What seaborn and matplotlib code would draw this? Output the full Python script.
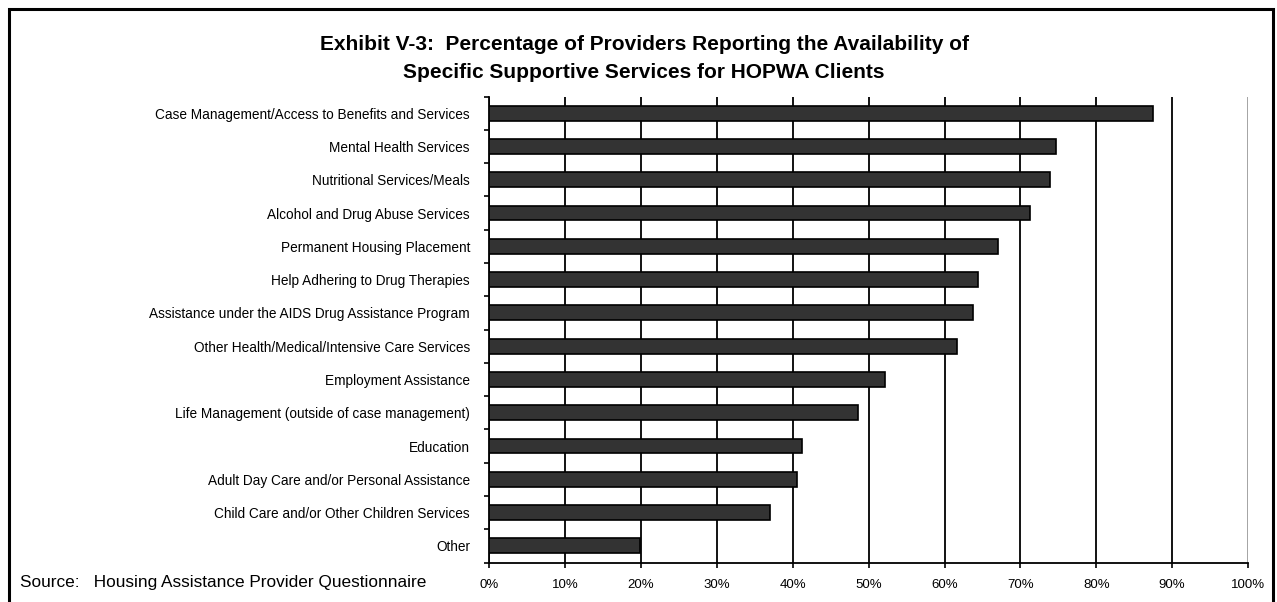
import matplotlib
matplotlib.use("Agg")
import matplotlib.pyplot as plt
from matplotlib import font_manager
from matplotlib.patches import Rectangle
import pandas as pd
import seaborn as sns

# Services and share of providers reporting each one (%)
services = [
    "Case Management/Access to Benefits and Services",
    "Mental Health Services",
    "Nutritional Services/Meals",
    "Alcohol and Drug Abuse Services",
    "Permanent Housing Placement",
    "Help Adhering to Drug Therapies",
    "Assistance under the AIDS Drug Assistance Program",
    "Other Health/Medical/Intensive Care Services",
    "Employment Assistance",
    "Life Management (outside of case management)",
    "Education",
    "Adult Day Care and/or Personal Assistance",
    "Child Care and/or Other Children Services",
    "Other",
]
percent = [87.5, 74.7, 73.9, 71.3, 67.1, 64.4, 63.8, 61.7, 52.2, 48.6, 41.2, 40.5, 37.0, 19.8]
x_ticks = [0, 10, 20, 30, 40, 50, 60, 70, 80, 90, 100]
x_tick_labels = [f"{v}%" for v in x_ticks]

title = ("Exhibit V-3:  Percentage of Providers Reporting the Availability of\n"
         "Specific Supportive Services for HOPWA Clients")
source = "Source:   Housing Assistance Provider Questionnaire"

sns.set_theme(style="white")
plt.rcParams["font.family"] = ["Liberation Sans", "DejaVu Sans"]
plt.rcParams["text.color"] = "black"
plt.rcParams["xtick.color"] = "black"
plt.rcParams["ytick.color"] = "black"

installed = {f.name for f in font_manager.fontManager.ttflist}
narrow = "Liberation Sans Narrow" if "Liberation Sans Narrow" in installed else None

W, H = 1277, 602
fig = plt.figure(figsize=(W / 100, H / 100), dpi=100)
fig.patch.set_facecolor("white")

# frame around the whole exhibit
fig.patches.append(Rectangle((9 / W, -0.02), (1273 - 9) / W, 1.02 - 9 / H,
                             transform=fig.transFigure, fill=False,
                             edgecolor="black", linewidth=2.2))

left, right, top, bottom = 489.3, 1248.0, 96.5, 562.5
ax = fig.add_axes([left / W, 1 - bottom / H, (right - left) / W, (bottom - top) / H])

df = pd.DataFrame({"service": services, "percent": percent})
sns.barplot(data=df, x="percent", y="service", orient="h", color="#333333",
            saturation=1, edgecolor="black", linewidth=1.2, width=0.45, ax=ax,
            zorder=3)

ax.set_xlim(0, 100)
ax.set_ylim(len(services) - 0.5, -0.5)
ax.set_xlabel("")
ax.set_ylabel("")

ax.set_xticks(x_ticks)
ax.set_xticklabels(x_tick_labels, fontsize=9.5, color="black")
ax.tick_params(axis="x", direction="out", length=3.6, width=1.2, color="black",
               pad=8.5, bottom=True, labelcolor="black")

# category labels centred on bars, tick marks between categories
ax.set_yticks(range(len(services)))
ax.set_yticklabels(services, fontsize=9.8, color="black")
ax.set_yticks([i - 0.5 for i in range(len(services) + 1)], minor=True)
ax.tick_params(axis="y", which="major", length=0, pad=13.9, labelcolor="black")
ax.tick_params(axis="y", which="minor", direction="out", length=3.6, width=1.2,
               color="black", left=True)

ax.set_axisbelow(True)
ax.xaxis.grid(True, color="black", linewidth=1.3)
ax.yaxis.grid(False)
gl = ax.get_xgridlines()
gl[-1].set_color("#8c8c8c")
gl[-1].set_linewidth(1.1)

for side in ("top", "right"):
    ax.spines[side].set_visible(False)
for side in ("left", "bottom"):
    ax.spines[side].set_color("black")
    ax.spines[side].set_linewidth(1.3)

fig.text(644 / W, 1 - 58.5 / H, title, ha="center", va="center", fontsize=15,
         fontweight="bold", linespacing=1.58, color="black")

src_kw = {"family": [narrow, "DejaVu Sans"], "fontsize": 15} if narrow else \
         {"fontsize": 12.4}
fig.text(20 / W, 1 - 582 / H, source, ha="left", va="center", color="black",
         **src_kw)

fig.savefig("out.png", dpi=100, facecolor="white")
